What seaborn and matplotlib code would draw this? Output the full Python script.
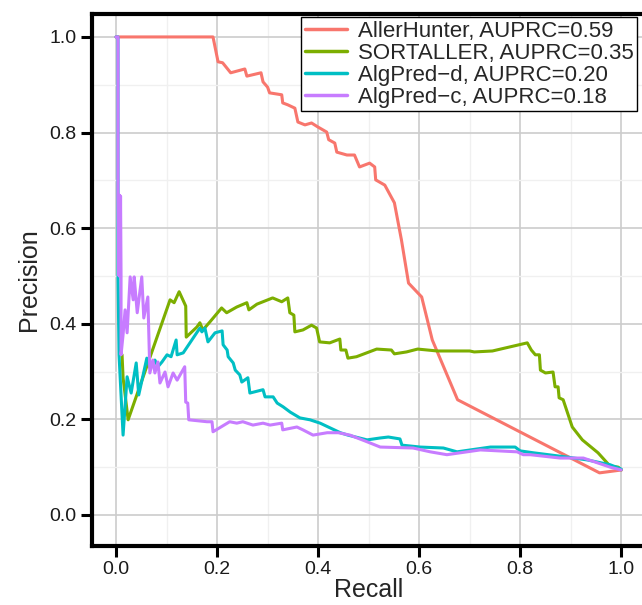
import numpy as np
import pandas as pd
import matplotlib
matplotlib.use("Agg")
import matplotlib.pyplot as plt
import seaborn as sns

# Precision-recall curves
labels = [
    "AllerHunter, AUPRC=0.59",
    "SORTALLER, AUPRC=0.35",
    "AlgPred\u2212d, AUPRC=0.20",
    "AlgPred\u2212c, AUPRC=0.18",
]
colors = ["#F8766D", "#7CAE00", "#00BFC4", "#C77CFF"]

aller_recall = [0.0, 0.192, 0.202, 0.211, 0.227, 0.255, 0.259, 0.287, 0.291, 0.300,
                0.304, 0.328, 0.330, 0.340, 0.354, 0.360, 0.374, 0.387, 0.399, 0.417,
                0.421, 0.433, 0.437, 0.457, 0.472, 0.482, 0.502, 0.512, 0.514, 0.532,
                0.551, 0.565, 0.579, 0.605, 0.626, 0.676, 0.957, 1.0]
aller_precision = [1.0, 1.0, 0.948, 0.946, 0.925, 0.933, 0.918, 0.925, 0.906, 0.895,
                   0.883, 0.879, 0.862, 0.858, 0.851, 0.822, 0.816, 0.820, 0.812, 0.801,
                   0.785, 0.778, 0.759, 0.753, 0.753, 0.728, 0.736, 0.728, 0.701, 0.690,
                   0.653, 0.575, 0.485, 0.456, 0.366, 0.241, 0.088, 0.094]

sort_recall = [0.012, 0.014, 0.024, 0.107, 0.115, 0.125, 0.138, 0.139, 0.160, 0.166,
               0.172, 0.186, 0.209, 0.219, 0.239, 0.259, 0.263, 0.279, 0.310, 0.328,
               0.340, 0.344, 0.352, 0.354, 0.370, 0.387, 0.397, 0.403, 0.423, 0.443,
               0.445, 0.455, 0.459, 0.476, 0.516, 0.545, 0.551, 0.575, 0.597, 0.636,
               0.700, 0.709, 0.745, 0.814, 0.822, 0.830, 0.838, 0.840, 0.850, 0.865,
               0.869, 0.875, 0.877, 0.885, 0.903, 0.923, 0.954, 0.978, 0.994, 1.0]
sort_precision = [0.335, 0.287, 0.199, 0.450, 0.444, 0.467, 0.437, 0.372, 0.393, 0.402,
                  0.387, 0.404, 0.433, 0.423, 0.435, 0.444, 0.429, 0.441, 0.454, 0.446,
                  0.454, 0.423, 0.418, 0.383, 0.387, 0.397, 0.391, 0.362, 0.360, 0.368,
                  0.345, 0.345, 0.328, 0.331, 0.347, 0.345, 0.337, 0.341, 0.347, 0.343,
                  0.343, 0.341, 0.343, 0.360, 0.345, 0.335, 0.335, 0.303, 0.297, 0.299,
                  0.268, 0.268, 0.245, 0.241, 0.184, 0.157, 0.130, 0.102, 0.100, 0.094]

algd_recall = [0.0, 0.004, 0.004, 0.006, 0.014, 0.022, 0.030, 0.040, 0.045, 0.061,
               0.067, 0.077, 0.083, 0.091, 0.101, 0.109, 0.119, 0.121, 0.133, 0.166,
               0.170, 0.176, 0.182, 0.196, 0.210, 0.212, 0.220, 0.222, 0.232, 0.236,
               0.245, 0.249, 0.261, 0.265, 0.291, 0.295, 0.311, 0.319, 0.331, 0.345,
               0.364, 0.384, 0.404, 0.424, 0.444, 0.459, 0.497, 0.523, 0.539, 0.562,
               0.566, 0.602, 0.648, 0.675, 0.741, 0.790, 0.800, 0.826, 0.893, 0.933,
               0.978, 1.0]
algd_precision = [1.0, 1.0, 0.498, 0.335, 0.167, 0.289, 0.255, 0.318, 0.251, 0.328,
                  0.308, 0.324, 0.310, 0.320, 0.335, 0.331, 0.366, 0.335, 0.339, 0.391,
                  0.383, 0.391, 0.362, 0.381, 0.385, 0.356, 0.345, 0.331, 0.318, 0.303,
                  0.293, 0.278, 0.287, 0.255, 0.262, 0.247, 0.247, 0.234, 0.226, 0.215,
                  0.203, 0.199, 0.192, 0.182, 0.172, 0.167, 0.157, 0.161, 0.163, 0.159,
                  0.146, 0.142, 0.140, 0.132, 0.142, 0.142, 0.134, 0.130, 0.121, 0.115,
                  0.105, 0.096]

algc_recall = [0.0, 0.004, 0.004, 0.006, 0.007, 0.008, 0.009, 0.010, 0.010, 0.014,
               0.018, 0.022, 0.028, 0.034, 0.036, 0.042, 0.051, 0.055, 0.063, 0.067,
               0.073, 0.077, 0.083, 0.087, 0.097, 0.103, 0.113, 0.121, 0.136, 0.138,
               0.142, 0.144, 0.180, 0.190, 0.192, 0.225, 0.239, 0.251, 0.271, 0.291,
               0.305, 0.328, 0.330, 0.358, 0.370, 0.390, 0.418, 0.440, 0.463, 0.497,
               0.523, 0.588, 0.622, 0.655, 0.721, 0.794, 0.806, 0.820, 0.879, 0.925,
               0.978, 1.0]
algc_precision = [1.0, 1.0, 0.669, 0.500, 0.669, 0.500, 0.667, 0.500, 0.335, 0.377,
                  0.429, 0.381, 0.498, 0.450, 0.498, 0.423, 0.498, 0.412, 0.456, 0.297,
                  0.324, 0.297, 0.320, 0.276, 0.299, 0.268, 0.297, 0.282, 0.310, 0.236,
                  0.234, 0.199, 0.195, 0.195, 0.174, 0.195, 0.192, 0.195, 0.188, 0.192,
                  0.188, 0.192, 0.178, 0.184, 0.178, 0.167, 0.172, 0.172, 0.167, 0.153,
                  0.142, 0.140, 0.132, 0.126, 0.136, 0.132, 0.126, 0.126, 0.119, 0.119,
                  0.100, 0.094]

recalls = [aller_recall, sort_recall, algd_recall, algc_recall]
precisions = [aller_precision, sort_precision, algd_precision, algc_precision]

frames = []
for lab, r, p in zip(labels, recalls, precisions):
    frames.append(pd.DataFrame({"Recall": r, "Precision": p, "model": lab}))
df = pd.concat(frames, ignore_index=True)

sns.set_theme(style="whitegrid")
plt.rcParams["font.family"] = ["Liberation Sans", "DejaVu Sans"]

fig = plt.figure(figsize=(6.42, 6.05), dpi=100)
ax = fig.add_axes([92 / 642, 59 / 605, 553 / 642, 532 / 605])

sns.lineplot(data=df, x="Recall", y="Precision", hue="model", hue_order=labels,
             palette=colors, sort=False, estimator=None, linewidth=2.2, ax=ax)

ticks = np.arange(0, 1.01, 0.2)
ax.set_xlim(-0.0475, 1.047)
ax.set_ylim(-0.065, 1.048)
ax.set_xticks(ticks)
ax.set_yticks(ticks)
ax.set_xticks(np.arange(0.1, 1.0, 0.2), minor=True)
ax.set_yticks(np.arange(0.1, 1.0, 0.2), minor=True)
ax.set_xticklabels([f"{v:.1f}" for v in ticks])
ax.set_yticklabels([f"{v:.1f}" for v in ticks])

ax.grid(which="major", color="#cccccc", linewidth=1.2)
ax.grid(which="minor", color="#f0f0f0", linewidth=1.0)
ax.set_facecolor("white")
ax.tick_params(which="major", direction="out", length=8, width=2.2, color="black",
               labelsize=14, labelcolor="#1a1a1a", bottom=True, left=True, pad=3)
ax.tick_params(which="minor", length=0)

for side in ["left", "bottom", "top"]:
    ax.spines[side].set_color("black")
    ax.spines[side].set_linewidth(3)
ax.spines["right"].set_visible(False)

ax.set_xlabel("Recall", fontsize=18, labelpad=0)
ax.set_ylabel("Precision", fontsize=18, labelpad=6)

handles, labs = ax.get_legend_handles_labels()
leg = ax.legend(handles, labs, loc="upper right", bbox_to_anchor=(0.9855, 0.994),
                borderaxespad=0, fontsize=16, frameon=True, fancybox=False,
                edgecolor="black", framealpha=1, handlelength=1.9,
                labelspacing=0.05, borderpad=0.15, handletextpad=0.5)
leg.get_frame().set_linewidth(1.0)
for line in leg.get_lines():
    line.set_linewidth(2.5)

fig.savefig("out.png", dpi=100)
